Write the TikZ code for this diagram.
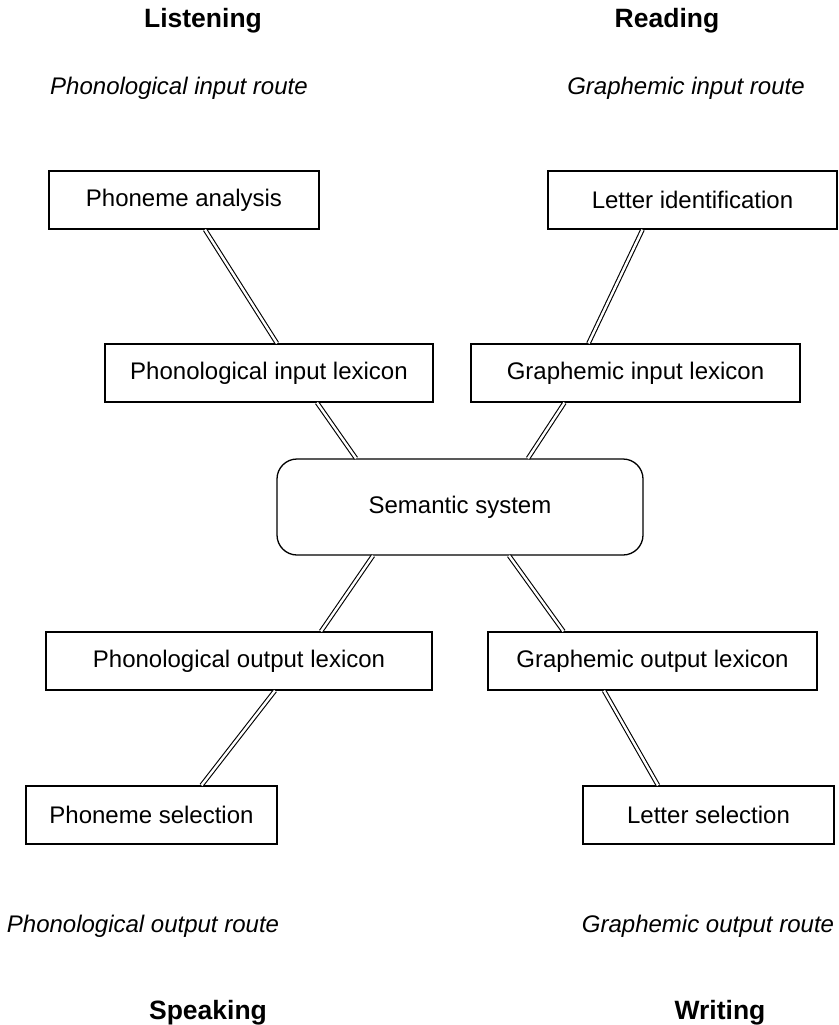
\documentclass[tikz,border=0pt]{standalone}
\usepackage{fontspec}
\setmainfont{Liberation Sans}

\begin{document}
\begin{tikzpicture}[x=1pt, y=-1pt,
    module/.style={draw, line width=1.3pt, minimum width=#1, minimum height=58pt, inner sep=0pt, font=\fontsize{24}{28}\selectfont},
    semantic/.style={draw, line width=1.3pt, rounded corners=20pt, minimum width=366pt, minimum height=96pt, inner sep=0pt, font=\fontsize{24}{28}\selectfont},
    heading/.style={font=\bfseries\fontsize{26.5}{30}\selectfont},
    route/.style={font=\itshape\fontsize{24}{28}\selectfont},
    link/.style={double, double distance=2.4pt, line width=1.1pt}]
  \useasboundingbox (0,0) rectangle (838,1025);

  % modalities and routes
  \node[heading] (listening) at (203,21) {Listening};
  \node[heading] (reading) at (667,21) {Reading};
  \node[route] (phoninroute) at (179,88) {Phonological input route};
  \node[route] (grapheminroute) at (686,88) {Graphemic input route};
  \node[route] (phonoutroute) at (143,926) {Phonological output route};
  \node[route] (graphemoutroute) at (708,926) {Graphemic output route};
  \node[heading] (speaking) at (208,1013) {Speaking};
  \node[heading] (writing) at (720,1013) {Writing};

  % modules
  \node[module=270pt] (phonanalysis) at (184,200) {Phoneme analysis};
  \node[module=289pt] (letterident) at (692.5,200) {Letter identification};
  \node[module=328pt] (phoninlex) at (269,373) {Phonological input lexicon};
  \node[module=329pt] (grapheminlex) at (635.5,373) {Graphemic input lexicon};
  \node[semantic] (semantic) at (460,507) {Semantic system};
  \node[module=386pt] (phonoutlex) at (239,661) {Phonological output lexicon};
  \node[module=329pt] (graphemoutlex) at (652.5,661) {Graphemic output lexicon};
  \node[module=251pt] (phonselect) at (151.5,815) {Phoneme selection};
  \node[module=251pt] (letterselect) at (708.5,815) {Letter selection};

  % links
  \draw[link] ([xshift=21pt]phonanalysis.south) -- ([xshift=8pt]phoninlex.north);
  \draw[link] ([xshift=-50pt]letterident.south) -- ([xshift=-47pt]grapheminlex.north);
  \draw[link] ([xshift=48pt]phoninlex.south) -- ([xshift=-104pt]semantic.north);
  \draw[link] ([xshift=-71pt]grapheminlex.south) -- ([xshift=68pt]semantic.north);
  \draw[link] ([xshift=-87pt]semantic.south) -- ([xshift=82pt]phonoutlex.north);
  \draw[link] ([xshift=49pt]semantic.south) -- ([xshift=-89pt]graphemoutlex.north);
  \draw[link] ([xshift=36pt]phonoutlex.south) -- ([xshift=50pt]phonselect.north);
  \draw[link] ([xshift=-48.5pt]graphemoutlex.south) -- ([xshift=-50.5pt]letterselect.north);
\end{tikzpicture}
\end{document}
